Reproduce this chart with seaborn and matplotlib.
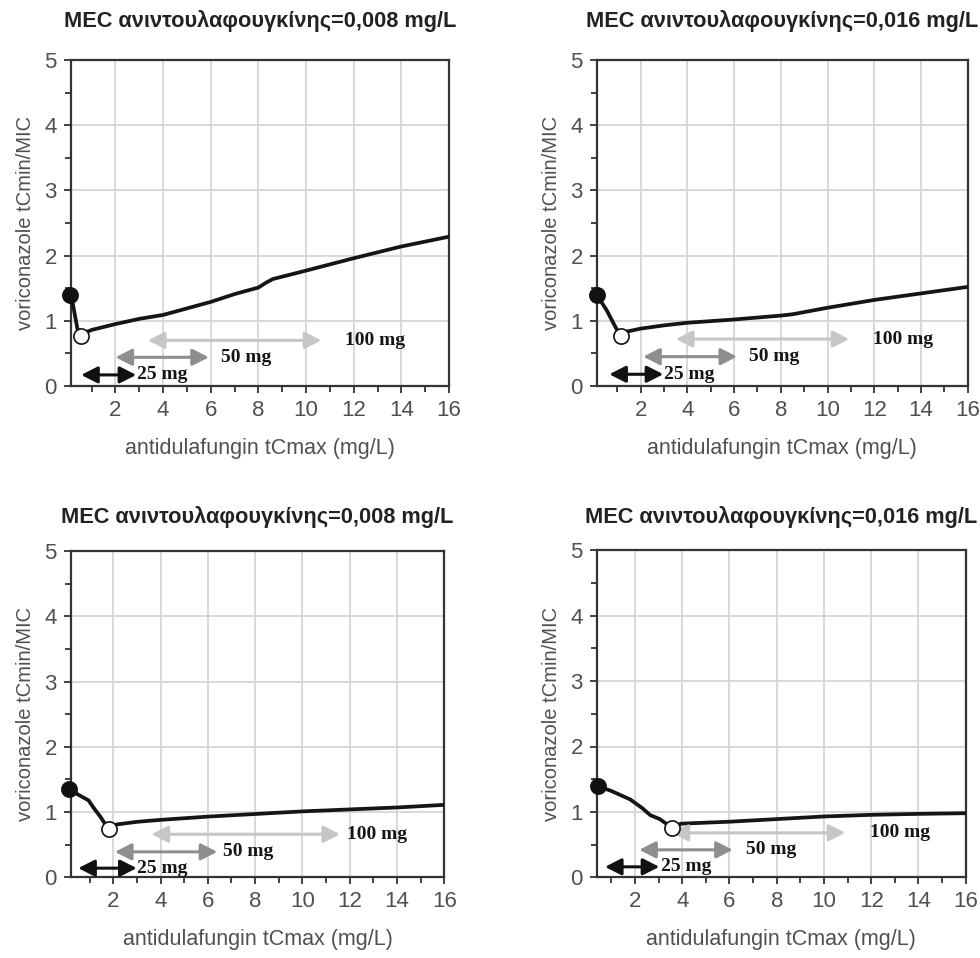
import matplotlib
matplotlib.use("Agg")
import matplotlib.pyplot as plt
import seaborn as sns
import numpy as np
import pandas as pd

# ---------------- data ----------------
titles = ["MEC ανιντουλαφουγκίνης=0,008 mg/L", "MEC ανιντουλαφουγκίνης=0,016 mg/L",
          "MEC ανιντουλαφουγκίνης=0,008 mg/L", "MEC ανιντουλαφουγκίνης=0,016 mg/L"]
xlabel = "antidulafungin tCmax (mg/L)"
ylabel = "voriconazole tCmin/MIC"

tl_x = [0.1, 0.2, 0.4, 0.55, 0.8, 1.0, 2, 3, 4, 5, 6, 7, 8, 8.3, 8.6, 10, 12, 14, 16]
tl_y = [1.40, 1.28, 0.88, 0.76, 0.83, 0.86, 0.95, 1.03, 1.09, 1.19, 1.29, 1.41, 1.51, 1.58, 1.64, 1.77, 1.96, 2.14, 2.29]

tr_x = [0.12, 0.55, 0.9, 1.15, 1.35, 2, 3, 4, 6, 8, 8.5, 10, 12, 14, 16]
tr_y = [1.40, 1.16, 0.92, 0.76, 0.83, 0.88, 0.93, 0.97, 1.02, 1.08, 1.10, 1.20, 1.32, 1.42, 1.52]

bl_x = [0.13, 0.5, 0.95, 1.2, 1.45, 1.8, 2.15, 3, 4, 6, 8, 10, 12, 14, 16]
bl_y = [1.36, 1.27, 1.18, 1.05, 0.93, 0.74, 0.81, 0.85, 0.88, 0.93, 0.97, 1.01, 1.04, 1.07, 1.11]

br_x = [0.45, 1.0, 1.8, 2.3, 2.65, 3.05, 3.55, 3.95, 6, 8, 10, 12, 14, 16]
br_y = [1.39, 1.32, 1.19, 1.06, 0.95, 0.89, 0.76, 0.82, 0.85, 0.89, 0.93, 0.955, 0.97, 0.98]

curves_x = [tl_x, tr_x, bl_x, br_x]
curves_y = [tl_y, tr_y, bl_y, br_y]

dose_labels = ["25 mg", "50 mg", "100 mg"]
dose_colors = ["#111111", "#8e8e8e", "#c6c6c6"]
# arrows per panel: (start, end, y, label_x) for 25, 50, 100 mg
tl_arrows = [(0.56, 2.87, 0.17, 2.9), (2.0, 5.92, 0.44, 6.44), (3.36, 10.64, 0.70, 11.62)]
tr_arrows = [(0.66, 2.97, 0.18, 2.99), (2.11, 6.13, 0.45, 6.65), (3.51, 10.93, 0.72, 11.93)]
bl_arrows = [(0.52, 2.99, 0.14, 3.0), (2.07, 6.40, 0.39, 6.63), (3.62, 11.59, 0.66, 11.87)]
br_arrows = [(0.73, 3.03, 0.16, 3.1), (2.18, 6.14, 0.42, 6.7), (3.55, 10.90, 0.68, 11.93)]
arrows = [tl_arrows, tr_arrows, bl_arrows, br_arrows]

xmins = [0.12, 0.12, 0.2, 0.38]
x_major = [2, 4, 6, 8, 10, 12, 14, 16]
x_minor = [1, 3, 5, 7, 9, 11, 13, 15]
y_major = [0, 1, 2, 3, 4, 5]
y_minor = [0.5, 1.5, 2.5, 3.5, 4.5]

# ---------------- style ----------------
sns.set_style("white")
plt.rcParams['font.family'] = ['Liberation Sans', 'DejaVu Sans']

fig = plt.figure(figsize=(9.8, 9.58), dpi=100)
W, H = 980, 958
boxes = [(70.7, 60, 449, 386), (596.7, 60, 967.7, 386),
         (70.7, 551, 444.3, 877.3), (596.7, 550.3, 965.7, 877.3)]
title_pads = [24, 24, 20, 20]

txt = "#505050"
for i, (l, t, r, b) in enumerate(boxes):
    ax = fig.add_axes([l / W, 1 - b / H, (r - l) / W, (b - t) / H])
    df = pd.DataFrame({"x": curves_x[i], "y": curves_y[i]})
    sns.lineplot(data=df, x="x", y="y", ax=ax, color="#151515", lw=2.7,
                 sort=False, estimator=None, zorder=4)
    imin = int(np.argmin(curves_y[i]))
    sns.scatterplot(x=[curves_x[i][0]], y=[curves_y[i][0]], ax=ax, s=120,
                    color="#111111", edgecolor="#111111", linewidth=1.2, zorder=6,
                    clip_on=False)
    sns.scatterplot(x=[curves_x[i][imin]], y=[curves_y[i][imin]], ax=ax, s=120,
                    color="white", edgecolor="#111111", linewidth=1.2, zorder=6,
                    clip_on=False)
    for (x0, x1, yy, lx), lab, col in zip(arrows[i], dose_labels, dose_colors):
        ax.annotate("", xy=(x1, yy), xytext=(x0, yy),
                    arrowprops=dict(arrowstyle="<|-|>,head_length=0.55,head_width=0.28",
                                    color=col, lw=2.2, mutation_scale=18,
                                    shrinkA=0, shrinkB=0), zorder=5)
        ax.text(lx, yy, lab, ha="left", va="center", fontsize=14, fontweight="bold",
                family=["Liberation Serif", "DejaVu Serif"], color="#151515", zorder=5)
    ax.set_xlim(xmins[i], 16)
    ax.set_ylim(0, 5)
    ax.set_xticks(x_major)
    ax.set_xticks(x_minor, minor=True)
    ax.set_yticks(y_major)
    ax.set_yticks(y_minor, minor=True)
    ax.grid(True, which="major", color="#d6d6d6", lw=1.3)
    ax.tick_params(axis="both", which="major", direction="out", length=5, width=1.3,
                   color="#333333", labelsize=16, labelcolor=txt, pad=5, bottom=True, left=True)
    ax.tick_params(axis="both", which="minor", direction="out", length=4, width=1.3,
                   color="#333333", bottom=True, left=True)
    for sp in ax.spines.values():
        sp.set_visible(True)
        sp.set_color("#333333")
        sp.set_linewidth(1.6)
    ax.set_xlabel(xlabel, fontsize=15.5, color=txt, labelpad=12)
    ax.set_ylabel(ylabel, fontsize=14.5, color=txt, labelpad=7)
    ax.set_title(titles[i], fontsize=15.7, fontweight="bold", color="#222222", pad=title_pads[i])

fig.savefig("out.png", dpi=100)
